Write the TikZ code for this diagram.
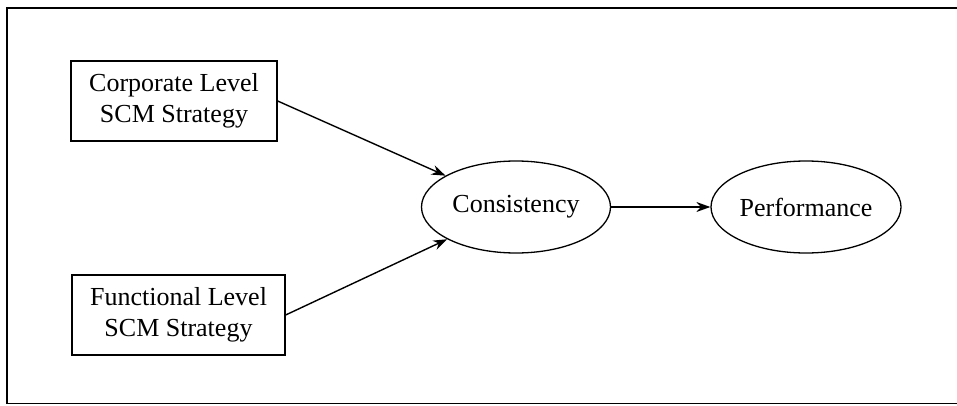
\documentclass[tikz,border=0pt]{standalone}
\usepackage{fontspec}
\setmainfont{Liberation Serif}
\usepackage{tikz}
\usetikzlibrary{arrows.meta,shapes.geometric,positioning}

\begin{document}
\begin{tikzpicture}[x=1pt, y=1pt,
        strategy/.style={draw, line width=1.3pt, minimum width=206pt, minimum height=80pt,
            align=center, inner sep=0pt, font=\fontsize{26}{31}\selectfont},
        construct/.style={draw, ellipse, line width=1.3pt, minimum width=189pt, minimum height=92pt,
            inner sep=0pt, font=\fontsize{26}{31}\selectfont},
        link/.style={line width=1.4pt, -{Stealth[length=14pt, width=10pt]}}]
        \useasboundingbox (0, 0) rectangle (957, 405);
        \draw [line width=1.5pt] (7, 1.5) rectangle (965, 397);

        \node [strategy] (corp) at (174, 304) {Corporate Level\\SCM Strategy};
        \node [strategy, minimum width=213pt] (func) at (178.5, 90) {Functional Level\\SCM Strategy};
        \node [construct] (cons) at (516, 198) {Consistency};
        \node [construct, minimum width=190pt] (perf) at (806, 198) {Performance};

        \draw [link] (corp.east) -- (cons);
        \draw [link] (func.east) -- (cons);
        \draw [link] (cons) -- (perf);
    \end{tikzpicture}
\end{document}
